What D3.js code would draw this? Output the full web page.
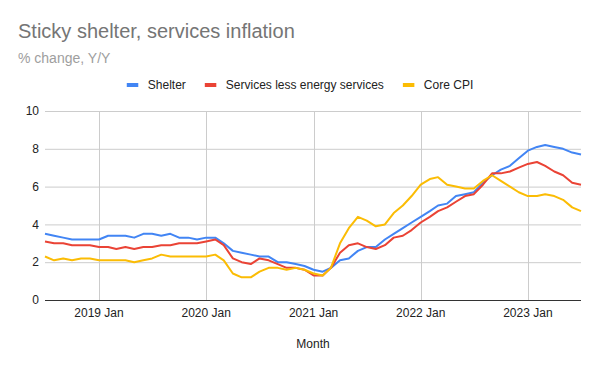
<!DOCTYPE html>
<html>
<head>
<meta charset="utf-8">
<script src="https://cdn.jsdelivr.net/npm/d3@7"></script>
<style>
  body { margin: 0; background: #fff; }
  svg { font-family: "Liberation Sans", Arial, sans-serif; }
  .grid line { stroke: #cccccc; stroke-width: 1; }
  .line { fill: none; stroke-width: 2; stroke-linejoin: round; }
</style>
</head>
<body>
<svg id="chart" width="600" height="371"></svg>
<script>
// monthly, 2018 Jul .. 2023 Jul
const startMonth = "2018-07";
const seriesNames = ["Shelter", "Services less energy services", "Core CPI"];
const shelter = [
  3.5, 3.4, 3.3, 3.2, 3.2, 3.2,
  3.2, 3.4, 3.4, 3.4, 3.3, 3.5, 3.5, 3.4, 3.5, 3.3, 3.3, 3.2,
  3.3, 3.3, 3.0, 2.6, 2.5, 2.4, 2.3, 2.3, 2.0, 2.0, 1.9, 1.8,
  1.6, 1.5, 1.7, 2.1, 2.2, 2.6, 2.8, 2.8, 3.2, 3.5, 3.8, 4.1,
  4.4, 4.7, 5.0, 5.1, 5.5, 5.6, 5.7, 6.2, 6.6, 6.9, 7.1, 7.5,
  7.9, 8.1, 8.2, 8.1, 8.0, 7.8, 7.7
];
const services = [
  3.1, 3.0, 3.0, 2.9, 2.9, 2.9,
  2.8, 2.8, 2.7, 2.8, 2.7, 2.8, 2.8, 2.9, 2.9, 3.0, 3.0, 3.0,
  3.1, 3.2, 2.9, 2.2, 2.0, 1.9, 2.2, 2.1, 1.9, 1.7, 1.7, 1.6,
  1.3, 1.3, 1.7, 2.5, 2.9, 3.0, 2.8, 2.7, 2.9, 3.3, 3.4, 3.7,
  4.1, 4.4, 4.7, 4.9, 5.2, 5.5, 5.6, 6.1, 6.7, 6.7, 6.8, 7.0,
  7.2, 7.3, 7.1, 6.8, 6.6, 6.2, 6.1
];
const coreCpi = [
  2.3, 2.1, 2.2, 2.1, 2.2, 2.2,
  2.1, 2.1, 2.1, 2.1, 2.0, 2.1, 2.2, 2.4, 2.3, 2.3, 2.3, 2.3,
  2.3, 2.4, 2.1, 1.4, 1.2, 1.2, 1.5, 1.7, 1.7, 1.6, 1.7, 1.6,
  1.4, 1.3, 1.7, 3.0, 3.8, 4.4, 4.2, 3.9, 4.0, 4.6, 5.0, 5.5,
  6.1, 6.4, 6.5, 6.1, 6.0, 5.9, 5.9, 6.3, 6.6, 6.3, 6.0, 5.7,
  5.5, 5.5, 5.6, 5.5, 5.3, 4.9, 4.7
];
const colors = ["#4285f4", "#ea4335", "#fbbc04"];
const yTicks = [0, 2, 4, 6, 8, 10];
const xTickYears = [2019, 2020, 2021, 2022, 2023];

const parseMonth = d3.utcParse("%Y-%m");
const t0 = parseMonth(startMonth);
const months = shelter.map((d, i) => d3.utcMonth.offset(t0, i));

const svg = d3.select("#chart");
const plotLeft = 45, plotRight = 581, plotTop = 111, plotBottom = 300;

const x = d3.scaleUtc().domain(d3.extent(months)).range([plotLeft, plotRight]);
const y = d3.scaleLinear().domain([0, 10]).range([plotBottom, plotTop]);

// title / subtitle
svg.append("text").attr("x", 18).attr("y", 38)
   .attr("font-size", 20).attr("fill", "#757575")
   .text("Sticky shelter, services inflation");
svg.append("text").attr("x", 18).attr("y", 63)
   .attr("font-size", 14).attr("fill", "#9e9e9e")
   .text("% change, Y/Y");

// grid
const grid = svg.append("g").attr("class", "grid");
grid.selectAll(".hg").data(yTicks.filter(d => d > 0)).enter().append("line")
    .attr("x1", plotLeft).attr("x2", plotRight)
    .attr("y1", d => y(d) + 0.5).attr("y2", d => y(d) + 0.5);
const janTicks = xTickYears.map(yr => new Date(Date.UTC(yr, 0, 1)));
grid.selectAll(".vg").data(janTicks).enter().append("line")
    .attr("x1", d => Math.round(x(d)) + 0.5).attr("x2", d => Math.round(x(d)) + 0.5)
    .attr("y1", plotTop).attr("y2", plotBottom);

// y labels
svg.append("g").selectAll("text").data(yTicks).enter().append("text")
   .attr("x", 39).attr("y", d => y(d)).attr("dy", "0.35em")
   .attr("text-anchor", "end").attr("font-size", 12).attr("fill", "#222")
   .text(d => d);

// x labels
svg.append("g").selectAll("text").data(janTicks).enter().append("text")
   .attr("x", d => x(d)).attr("y", 317)
   .attr("text-anchor", "middle").attr("font-size", 12).attr("fill", "#222")
   .text(d => d3.utcFormat("%Y Jan")(d));

svg.append("text").attr("x", (plotLeft + plotRight) / 2).attr("y", 348)
   .attr("text-anchor", "middle").attr("font-size", 12).attr("fill", "#222")
   .text("Month");

// lines
const line = d3.line().x((d, i) => x(months[i])).y(d => y(d));
[shelter, services, coreCpi].forEach((vals, k) => {
  svg.append("path").attr("class", "line")
     .attr("d", line(vals)).attr("stroke", colors[k]);
});

// baseline
svg.append("line").attr("x1", plotLeft).attr("x2", plotRight)
   .attr("y1", y(0) + 0.5).attr("y2", y(0) + 0.5)
   .attr("stroke", "#333").attr("stroke-width", 1);

// legend
const legend = svg.append("g");
let lx = 0;
seriesNames.forEach((name, k) => {
  const g = legend.append("g");
  g.append("rect").attr("x", 0).attr("y", 83).attr("width", 11.5).attr("height", 4)
   .attr("fill", colors[k]);
  const t = g.append("text").attr("x", 21).attr("y", 89)
   .attr("font-size", 12).attr("fill", "#222").text(name);
  const w = 21 + t.node().getComputedTextLength();
  g.attr("transform", "translate(" + lx + ",0)");
  lx += w + 19;
});
const legendWidth = lx - 19;
legend.attr("transform", "translate(" + (300 - legendWidth / 2) + ",0)");
</script>
</body>
</html>
